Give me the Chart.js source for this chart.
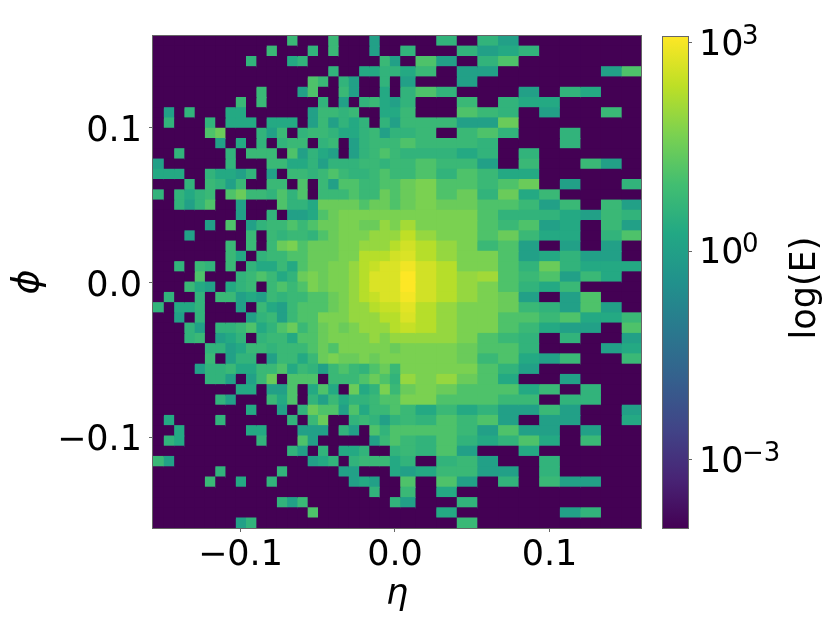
<!DOCTYPE html>
<html>
<head>
<meta charset="utf-8">
<title>eta phi energy map</title>
<script src="https://cdn.jsdelivr.net/npm/chart.js@4/dist/chart.umd.js"></script>
<style>
    html, body { margin: 0; padding: 0; background: #fff; }
    #page { position: relative; width: 830px; height: 642px; overflow: hidden; }
    canvas { position: absolute; top: 0; }
</style>
</head>
<body>
<div id="page">
    <canvas id="map" width="655" height="642" style="left:0"></canvas>
    <canvas id="cbar" width="175" height="642" style="left:655px"></canvas>
</div>
<script>
// Bin edges along eta (the bins get wider right of centre)
const etaEdges = [
    -0.1566, -0.1500, -0.1433, -0.1367, -0.1300, -0.1234, -0.1167, -0.1101, -0.1034, -0.0968,
    -0.0901, -0.0835, -0.0768, -0.0702, -0.0635, -0.0569, -0.0502, -0.0436, -0.0369, -0.0303,
    -0.0236, -0.0170, -0.0103, -0.0037, 0.0030, 0.0129, 0.0263, 0.0396, 0.0529, 0.0663,
    0.0796, 0.0929, 0.1063, 0.1196, 0.1329, 0.1463, 0.1592
];

// Bin centres along phi, top row first
const phiCenters = [
    0.1561, 0.1495, 0.1428, 0.1362, 0.1296, 0.1229, 0.1163, 0.1097, 0.1031, 0.0964, 0.0898, 0.0832,
    0.0765, 0.0699, 0.0633, 0.0566, 0.0500, 0.0434, 0.0368, 0.0301, 0.0235, 0.0169, 0.0102, 0.0036,
    -0.0030, -0.0097, -0.0163, -0.0229, -0.0295, -0.0362, -0.0428, -0.0494, -0.0561, -0.0627, -0.0693, -0.0760,
    -0.0826, -0.0892, -0.0958, -0.1025, -0.1091, -0.1157, -0.1224, -0.1290, -0.1356, -0.1423, -0.1489, -0.1555
];

// Energy per cell. 0 = empty cell
const row00 = [0,0,0,0,0,0,0,0,0,0,0,0, 0,6,0,0,0,6,0,0,0,1,0,0, 0,0,4,0,4,1,0,0,0,0,0,0];
const row01 = [0,0,0,0,0,0,0,0,0,0,0,6, 0,0,0,4,0,6,0,0,0,1,0,0, 4,0,0,4,1,2,4,0,0,0,0,0];
const row02 = [0,0,0,0,0,0,0,0,0,4,0,0, 0,2,4,0,0,0,0,0,0,0,6,1, 0,13,1,0,4,13,0,0,0,0,0,0];
const row03 = [0,0,0,0,0,0,0,0,0,0,0,0, 0,0,0,0,0,4,0,0,2,2,4,4, 2,6,0,1,1,0,0,0,0,0,1,13];
const row04 = [0,0,0,0,0,0,0,0,0,0,0,0, 0,0,0,13,6,0,4,1,0,0,4,0, 1,0,0,1,0,0,0,0,0,0,0,0];
const row05 = [0,0,0,0,0,0,0,0,0,0,6,0, 0,0,1,13,0,0,6,1,0,0,2,0, 4,13,4,0,0,0,1,0,4,2,0,0];
const row06 = [0,0,0,0,0,0,0,0,6,0,6,0, 0,0,0,0,4,0,1,0,4,6,2,1, 4,0,0,6,0,4,2,2,0,0,0,0];
const row07 = [0,1,0,4,0,0,0,2,2,0,0,0, 0,0,0,1,6,6,4,6,0,0,2,2, 6,0,0,13,6,4,0,1,0,0,6,0];
const row08 = [0,4,0,0,0,4,0,2,2,2,0,2, 2,2,0,1,6,1,4,2,4,0,4,1, 6,6,6,1,1,29,0,0,0,0,0,0];
const row09 = [0,0,0,0,0,13,29,0,0,0,4,1, 6,0,4,6,6,4,2,2,4,6,1,4, 4,6,0,6,13,4,0,0,4,0,0,0];
const row10 = [0,0,0,0,0,0,1,0,2,0,4,0, 4,6,6,0,4,6,0,1,4,6,6,6, 13,6,6,6,4,0,0,0,4,0,0,0];
const row11 = [0,0,4,0,0,0,0,4,0,6,6,6, 0,13,1,4,2,1,0,1,4,6,13,6, 4,4,4,2,4,0,4,0,0,0,0,0];
const row12 = [1,0,0,0,0,0,0,4,0,0,0,6, 6,2,2,4,1,4,4,4,6,6,4,6, 6,13,6,6,1,0,6,0,0,6,1,0];
const row13 = [2,2,2,0,0,4,2,2,1,4,0,1, 0,6,6,4,6,13,6,4,4,6,13,6, 6,13,4,13,6,2,2,0,0,0,0,0];
const row14 = [0,0,0,4,0,6,4,1,6,0,0,6, 6,0,13,0,6,1,13,13,6,6,13,13, 29,47,13,13,6,13,29,0,1,0,0,4];
const row15 = [4,0,4,2,4,6,0,13,29,6,6,4, 13,4,13,0,6,6,6,13,6,6,29,13, 29,47,13,29,4,29,2,6,0,0,0,0];
const row16 = [0,0,4,1,4,13,0,0,1,0,0,0, 13,4,4,2,29,29,29,29,13,29,29,13, 29,47,29,29,13,13,6,1,6,0,6,1];
const row17 = [0,0,0,0,0,0,0,0,1,0,0,4, 0,1,1,2,13,29,47,47,47,47,47,47, 47,47,47,47,13,4,4,4,2,1,6,4];
const row18 = [0,0,0,0,0,1,0,13,0,1,4,6, 6,13,6,13,29,29,47,47,29,29,90,47, 130,47,47,47,13,6,13,1,2,0,6,1];
const row19 = [0,0,0,1,0,0,0,0,0,6,0,6, 4,6,6,4,13,29,47,47,47,90,90,90, 250,90,47,47,13,29,6,2,2,0,4,13];
const row20 = [0,0,0,0,0,0,0,6,0,6,0,6, 29,47,13,29,29,29,47,47,90,90,90,200, 390,200,90,47,6,13,1,0,1,0,1,0];
const row21 = [0,0,0,0,0,0,0,6,2,0,4,6, 6,13,13,29,29,29,47,47,200,200,200,390, 500,200,90,47,47,13,1,2,4,1,1,0];
const row22 = [0,0,4,0,6,4,0,6,0,4,2,2, 6,2,13,29,29,47,47,90,200,300,500,500, 870,390,200,47,47,13,4,29,4,2,2,2];
const row23 = [0,0,0,0,13,0,0,0,4,6,13,6, 2,4,29,47,29,47,47,90,200,500,500,500, 1200,390,200,90,120,13,6,13,1,6,2,0];
const row24 = [0,0,0,6,2,1,0,2,4,6,0,6, 13,6,13,47,29,47,47,90,200,500,500,500, 1200,390,200,90,47,13,4,2,6,0,0,0];
const row25 = [0,4,0,0,4,0,6,6,1,2,1,6, 4,6,6,13,13,29,47,90,200,300,500,500, 950,390,200,90,47,29,1,0,1,13,0,0];
const row26 = [4,0,2,2,4,0,0,0,1,0,6,2, 1,6,13,13,13,29,47,90,90,200,300,300, 600,200,90,47,47,29,6,4,1,13,1,0];
const row27 = [0,0,1,0,4,0,0,0,0,1,4,6, 1,6,13,13,47,47,47,90,90,90,200,200, 500,200,90,47,47,13,13,6,13,2,2,6];
const row28 = [0,0,0,4,1,0,4,4,6,13,2,4, 13,29,6,13,29,47,29,47,90,90,90,200, 300,200,90,47,47,13,6,2,1,1,0,13];
const row29 = [0,0,0,4,6,0,1,2,4,0,4,6, 6,2,13,13,29,47,47,47,47,90,47,90, 90,90,90,47,13,6,4,0,4,0,0,1];
const row30 = [0,0,0,0,0,4,4,1,2,6,6,4, 6,6,6,13,29,13,47,47,47,47,47,29, 47,47,47,29,13,13,4,0,0,0,1,2];
const row31 = [0,0,0,0,0,6,0,1,4,4,0,1, 6,6,2,6,29,47,29,29,47,29,47,47, 47,47,47,29,6,13,2,1,6,0,0,6];
const row32 = [0,0,0,0,1,4,4,6,2,2,6,6, 13,2,6,4,1,6,13,6,4,13,29,6, 47,47,47,47,13,4,1,0,0,0,0,0];
const row33 = [0,0,0,0,0,4,4,1,0,1,6,29, 0,13,13,13,0,6,6,6,13,29,13,4, 90,47,90,29,13,2,0,0,1,0,0,0];
const row34 = [0,0,0,0,0,0,0,0,2,2,0,1, 1,13,0,2,13,2,0,29,2,4,47,6, 29,47,29,13,13,13,2,6,0,4,0,0];
const row35 = [0,0,0,0,0,0,4,1,0,0,0,6, 2,13,0,4,1,6,2,4,4,6,13,13, 47,47,13,13,13,6,6,0,4,4,0,0];
const row36 = [0,0,0,0,0,0,0,0,0,2,0,0, 1,0,4,29,13,13,1,13,2,6,6,13, 6,2,6,2,4,1,1,6,1,0,0,1];
const row37 = [0,2,0,0,0,0,4,0,0,0,0,0, 0,4,0,6,29,0,0,4,6,4,1,4, 6,4,13,6,13,1,0,1,1,0,0,2];
const row38 = [0,0,2,0,0,0,0,0,0,2,2,0, 0,0,1,1,1,0,4,1,0,13,4,13, 13,13,13,6,1,13,1,1,0,1,0,0];
const row39 = [0,4,2,0,0,0,0,0,0,0,4,0, 0,0,13,1,0,0,0,0,0,1,6,13, 6,4,13,4,2,4,13,2,0,6,0,0];
const row40 = [0,0,0,0,0,0,0,0,0,0,0,0, 0,4,1,0,4,0,2,2,4,0,0,4, 6,4,13,1,0,0,2,0,0,0,0,0];
const row41 = [6,1,0,0,0,0,0,0,0,0,0,0, 0,0,0,1,2,4,0,4,6,6,6,2, 4,0,4,6,1,0,0,4,0,0,0,0];
const row42 = [0,0,0,0,0,0,4,0,0,0,0,0, 4,0,0,0,0,0,1,1,0,0,0,2, 1,2,6,6,1,1,0,4,0,0,0,0];
const row43 = [0,0,0,0,0,6,0,0,2,0,0,4, 0,0,0,0,0,0,0,1,2,1,0,0, 13,0,13,1,0,4,0,6,1,1,0,0];
const row44 = [0,0,0,0,0,0,0,0,0,0,0,0, 0,0,0,0,0,0,0,0,0,4,0,0, 6,0,2,0,0,0,0,0,0,0,0,0];
const row45 = [0,0,0,0,0,0,0,0,0,0,0,0, 4,1,6,0,0,0,0,0,0,0,0,4, 1,0,0,4,0,0,0,0,0,0,0,0];
const row46 = [0,0,0,0,0,0,0,0,0,0,0,0, 0,0,0,13,0,0,0,0,0,0,0,0, 0,0,2,0,0,0,0,0,1,4,0,0];
const row47 = [0,0,0,0,0,0,0,0,1,4,0,0, 0,0,0,0,0,0,0,0,0,0,0,0, 0,0,0,6,0,0,0,0,0,0,0,0];

const energyRows = [
    row00, row01, row02, row03, row04, row05, row06, row07, row08, row09, row10, row11,
    row12, row13, row14, row15, row16, row17, row18, row19, row20, row21, row22, row23,
    row24, row25, row26, row27, row28, row29, row30, row31, row32, row33, row34, row35,
    row36, row37, row38, row39, row40, row41, row42, row43, row44, row45, row46, row47
];

const axisTicks = [-0.1, 0, 0.1];
const cbarTicks = [1e-3, 1, 1e3];
const cbarExponents = ['\u22123', '0', '3'];

// Colour bar limits
const energyMin = 1.05e-4;
const energyMax = 1202;

const viridis = [
    [68, 1, 84], [72, 36, 117], [65, 68, 135], [53, 95, 141], [42, 120, 142], [33, 145, 140],
    [34, 168, 132], [66, 190, 113], [122, 209, 81], [189, 223, 38], [253, 231, 37]
];

const FONT = 'DejaVu Sans';
const SPINE = '#666';

function viridisAt(t) {
    const pos = Math.max(0, Math.min(1, t)) * (viridis.length - 1);
    const i = Math.min(Math.floor(pos), viridis.length - 2);
    const f = pos - i;
    const c = viridis[i].map((v, k) => Math.round(v + (viridis[i + 1][k] - v) * f));
    return `rgb(${c[0]},${c[1]},${c[2]})`;
}

function energyColor(e) {
    if (!e) return viridisAt(0);
    const lo = Math.log10(energyMin);
    return viridisAt((Math.log10(e) - lo) / (Math.log10(energyMax) - lo));
}

function axisLabel(value) {
    if (value === 0) return '0.0';
    return (value < 0 ? '\u2212' : '') + Math.abs(value).toFixed(1);
}

// matplotlib draws all four spines, Chart.js only the two with axes
const frame = {
    id: 'frame',
    afterDraw(chart) {
        const a = chart.chartArea, ctx = chart.ctx;
        ctx.save();
        ctx.strokeStyle = SPINE;
        ctx.lineWidth = 1;
        ctx.strokeRect(a.left - 0.5, a.top - 0.5, a.right - a.left + 1, a.bottom - a.top + 1);
        ctx.restore();
    }
};

// Exponents of the colour bar ticks and the upward reading title,
// neither can be done with the tick and title options
const cbarText = {
    id: 'cbarText',
    afterDraw(chart) {
        const ctx = chart.ctx, scale = chart.scales.y;
        ctx.save();
        ctx.fillStyle = '#000';
        ctx.font = `26px "${FONT}"`;
        ctx.textAlign = 'left';
        ctx.textBaseline = 'alphabetic';
        cbarTicks.forEach((value, i) => {
            ctx.fillText(cbarExponents[i], 87, scale.getPixelForValue(value) + 1);
        });
        ctx.translate(151, 288);
        ctx.rotate(-Math.PI / 2);
        ctx.font = `35px "${FONT}"`;
        ctx.textAlign = 'center';
        ctx.textBaseline = 'middle';
        ctx.fillText('log(E)', 0, 0);
        ctx.restore();
    }
};

const mapDatasets = etaEdges.slice(0, -1).map((lo, col) => ({
    data: phiCenters.map(phi => ({ x: [lo, etaEdges[col + 1]], y: phi })),
    backgroundColor: energyRows.map(row => energyColor(row[col]))
}));

new Chart(document.getElementById('map'), {
    type: 'bar',
    data: { datasets: mapDatasets },
    plugins: [frame],
    options: {
        indexAxis: 'y',
        responsive: false,
        animation: false,
        devicePixelRatio: 1,
        layout: { padding: { left: 5, right: 14, top: 36, bottom: 26 } },
        datasets: {
            bar: { grouped: false, barPercentage: 1, categoryPercentage: 1, borderWidth: 0, inflateAmount: 0.6 }
        },
        scales: {
            x: {
                type: 'linear',
                min: -0.1566,
                max: 0.1592,
                afterBuildTicks: scale => { scale.ticks = axisTicks.map(value => ({ value })); },
                afterFit: scale => { scale.height = 88; },
                grid: { drawOnChartArea: false, tickLength: 4, tickColor: SPINE },
                border: { color: SPINE },
                ticks: {
                    autoSkip: false,
                    maxRotation: 0,
                    padding: 3,
                    color: '#000',
                    font: { family: FONT, size: 35 },
                    callback: axisLabel
                },
                title: {
                    display: true,
                    text: '\u03B7',
                    color: '#000',
                    padding: 0,
                    font: { family: FONT, size: 35, style: 'italic' }
                }
            },
            y: {
                type: 'linear',
                offset: false,
                min: -0.1586,
                max: 0.1594,
                afterBuildTicks: scale => { scale.ticks = axisTicks.map(value => ({ value })); },
                afterFit: scale => { scale.width = 148; },
                grid: { offset: false, drawOnChartArea: false, tickLength: 4, tickColor: SPINE },
                border: { color: SPINE },
                ticks: {
                    autoSkip: false,
                    padding: 7,
                    color: '#000',
                    // the blank first line and short line height push the label down a little
                    font: { family: FONT, size: 35, lineHeight: '8px' },
                    callback: value => ['', axisLabel(value)]
                },
                title: {
                    display: true,
                    text: '\u03D5',
                    color: '#000',
                    padding: 0,
                    font: { family: FONT, size: 38, style: 'italic' }
                }
            }
        },
        plugins: { legend: { display: false }, tooltip: { enabled: false } }
    }
});

new Chart(document.getElementById('cbar'), {
    type: 'bar',
    data: {
        labels: ['E'],
        datasets: [{
            data: [[energyMin, energyMax]],
            backgroundColor(ctx) {
                const area = ctx.chart.chartArea;
                if (!area) return viridisAt(0);
                const g = ctx.chart.ctx.createLinearGradient(0, area.bottom, 0, area.top);
                viridis.forEach((c, i) => g.addColorStop(i / (viridis.length - 1), `rgb(${c[0]},${c[1]},${c[2]})`));
                return g;
            },
            barPercentage: 1,
            categoryPercentage: 1,
            borderWidth: 0
        }]
    },
    plugins: [frame, cbarText],
    options: {
        responsive: false,
        animation: false,
        devicePixelRatio: 1,
        layout: { padding: { left: 8, right: 0, top: 37, bottom: 114 } },
        scales: {
            x: { display: false },
            y: {
                type: 'logarithmic',
                position: 'right',
                min: energyMin,
                max: energyMax,
                afterBuildTicks: scale => { scale.ticks = cbarTicks.map(value => ({ value })); },
                afterFit: scale => { scale.width = 142; },
                grid: { drawOnChartArea: false, tickLength: 4, tickColor: SPINE },
                border: { color: SPINE },
                ticks: {
                    autoSkip: false,
                    padding: 7,
                    color: '#000',
                    font: { family: FONT, size: 35, lineHeight: '6px' },
                    callback: () => ['', '10']
                }
            }
        },
        plugins: { legend: { display: false }, tooltip: { enabled: false } }
    }
});
</script>
</body>
</html>
